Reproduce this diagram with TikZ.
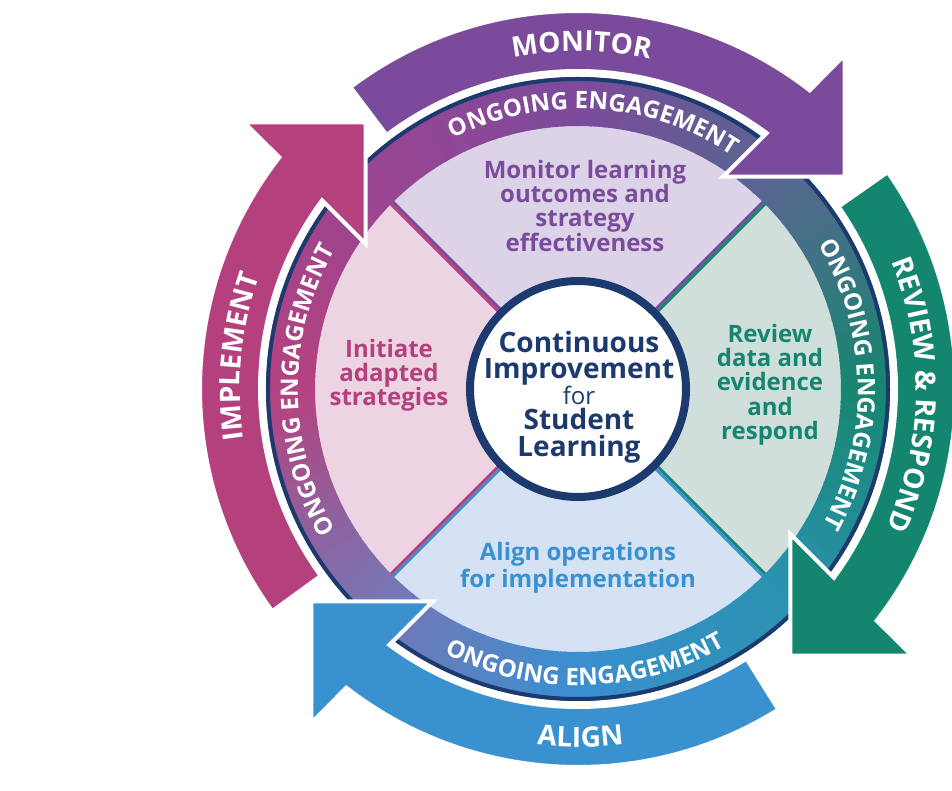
\documentclass[tikz,border=0pt]{standalone}
\usepackage{fontspec}
\setmainfont{Open Sans}
\usetikzlibrary{calc,decorations.text}
\definecolor{navy}{HTML}{1D3A6E}
\definecolor{cmon}{HTML}{7B4B9B}
\definecolor{crev}{HTML}{14866F}
\definecolor{calg}{HTML}{3A91D0}
\definecolor{cimp}{HTML}{B5407E}
\definecolor{qtop}{HTML}{DCD3E8}
\definecolor{qright}{HTML}{D1DFDC}
\definecolor{qbot}{HTML}{D5E2F3}
\definecolor{qleft}{HTML}{ECD4E2}
\definecolor{bc0}{HTML}{B4427F}
\definecolor{bc1}{HTML}{7A74B2}
\definecolor{bc2}{HTML}{3A8FD0}
\definecolor{bc3}{HTML}{2B92B0}
\definecolor{bc4}{HTML}{17866F}
\definecolor{bc5}{HTML}{55688F}
\definecolor{bc6}{HTML}{7B4B9B}
\definecolor{bc7}{HTML}{9A4592}
\definecolor{bc8}{HTML}{B4427F}
\newcommand\bandfont{\fontsize{24pt}{24pt}\selectfont\bfseries}
\newcommand\arrfont{\fontsize{28pt}{28pt}\selectfont\bfseries}
\newcommand\qfont{\fontsize{24pt}{24pt}\selectfont\bfseries}
\newcommand\cfont{\fontsize{28pt}{28pt}\selectfont\bfseries}
\newcommand\forfont{\fontsize{24pt}{24pt}\selectfont}
% #1 rotation (0,90,180,270), #2 colour, #3 tail angle
\newcommand\outarrow[3]{%
  \filldraw[fill=#2, draw=white, line width=4pt, line join=miter]
    (#3:318) -- (#3:378)
    arc[start angle=#3, end angle={52.2-#1}, radius=378]
    -- ($({53-#1}:342)+({45-#1}:86)$)
    -- ($({53-#1}:342)+({-45-#1}:86)$)
    -- ($({53-#1}:342)+({225-#1}:86)$)
    -- ({53.6-#1}:318)
    arc[start angle={53.6-#1}, end angle=#3, radius=318] -- cycle;}
\tikzset{
  qtext/.style={anchor=base, inner sep=0pt, font=\qfont},
  ctext/.style={anchor=base, inner sep=0pt, font=\cfont, text=navy},
  bandtext/.style={decorate, decoration={text along path, text align=center,
      text color=white, text={|\bandfont|ONGOING ENGAGEMENT}}},
}
\begin{document}
\begin{tikzpicture}[x=1pt,y=1pt]
\useasboundingbox[fill=white] (-578,-402) rectangle (374,389);
% quadrants
\fill[qtop]   (0,0) -- (45:266)  arc[start angle=45,  end angle=135, radius=266] -- cycle;
\fill[qleft]  (0,0) -- (135:266) arc[start angle=135, end angle=225, radius=266] -- cycle;
\fill[qbot]   (0,0) -- (225:266) arc[start angle=225, end angle=315, radius=266] -- cycle;
\fill[qright] (0,0) -- (-45:266) arc[start angle=-45, end angle=45,  radius=266] -- cycle;
% dividers
\foreach \t/\ca/\cb in {45/cmon/crev,135/cimp/cmon,225/calg/cimp,315/crev/calg}{
  \draw[\ca, line width=3pt, shift={({\t+90}:1.5)}] (\t:100) -- (\t:265);
  \draw[\cb, line width=3pt, shift={({\t-90}:1.5)}] (\t:100) -- (\t:265);
}
% gradient band
\foreach \i/\ca/\cb in {0/bc0/bc1,1/bc1/bc2,2/bc2/bc3,3/bc3/bc4,4/bc4/bc5,5/bc5/bc6,6/bc6/bc7,7/bc7/bc8}{
  \foreach \j in {0,...,14}{
    \pgfmathsetmacro\aa{-180+45*\i+3*\j}
    \pgfmathsetmacro\ab{\aa+3.4}
    \pgfmathsetmacro\pp{100-100*(\j+0.5)/15}
    \fill[\ca!\pp!\cb] (\aa:263) arc[start angle=\aa, end angle=\ab, radius=263]
      -- (\ab:312) arc[start angle=\ab, end angle=\aa, radius=312] -- cycle;
  }
}
\draw[navy, line width=4pt] (0,0) circle[radius=310];
% outer arrows
\outarrow{0}{cmon}{127}
\outarrow{90}{crev}{35}
\outarrow{180}{calg}{-58}
\outarrow{270}{cimp}{-144}
% band texts
\path[bandtext] (146.5:280) arc[start angle=146.5, end angle=26.5, radius=280];
\path[bandtext] (61:280) arc[start angle=61, end angle=-59, radius=280];
\path[bandtext] (240.2:280) arc[start angle=240.2, end angle=120.2, radius=280];
\path[bandtext] (-148.5:296.5) arc[start angle=-148.5, end angle=-28.5, radius=296.5];
% outer arrow texts
\path[decorate, decoration={text along path, text align=center, text color=white,
  text={|\arrfont|MONITOR}}] (149.4:338) arc[start angle=149.4, end angle=29.4, radius=338];
\path[decorate, decoration={text along path, text align=center, text color=white,
  text={|\arrfont|REVIEW {\&} RESPOND}}] (59:338) arc[start angle=59, end angle=-61, radius=338];
\path[decorate, decoration={text along path, text align=center, text color=white,
  text={|\arrfont|ALIGN}}] (-149.6:358) arc[start angle=-149.6, end angle=-29.6, radius=358];
\path[decorate, decoration={text along path, text align=center, text color=white,
  text={|\arrfont|IMPLEMENT}}] (234.5:338) arc[start angle=234.5, end angle=114.5, radius=338];
% core
\node[circle, draw=navy, line width=8pt, fill=white, minimum size=216pt, inner sep=0pt] (core) at (0,0) {};
\node[ctext] (c1) at (1,36) {Continuous};
\node[ctext] (c2) at (1,10) {Improvement};
\node[ctext, font=\forfont] (c3) at (1,-16) {for};
\node[ctext] (c4) at (1,-41) {Student};
\node[ctext] (c5) at (1,-68) {Learning};
% quadrant texts
\node[qtext, text=cmon] (t1) at (7,210) {Monitor learning};
\node[qtext, text=cmon] (t2) at (7,186) {outcomes and};
\node[qtext, text=cmon] (t3) at (7,162) {strategy};
\node[qtext, text=cmon] (t4) at (7,137) {effectiveness};
\node[qtext, text=crev] (r1) at (192,46) {Review};
\node[qtext, text=crev] (r2) at (192,22) {data and};
\node[qtext, text=crev] (r3) at (192,-2) {evidence};
\node[qtext, text=crev] (r4) at (192,-27) {and};
\node[qtext, text=crev] (r5) at (192,-51) {respond};
\node[qtext, text=cimp] (l1) at (-189,31) {Initiate};
\node[qtext, text=cimp] (l2) at (-189,7) {adapted};
\node[qtext, text=cimp] (l3) at (-189,-17) {strategies};
\node[qtext, text=calg] (b1) at (0,-172) {Align operations};
\node[qtext, text=calg] (b2) at (0,-198) {for implementation};
\end{tikzpicture}
\end{document}
